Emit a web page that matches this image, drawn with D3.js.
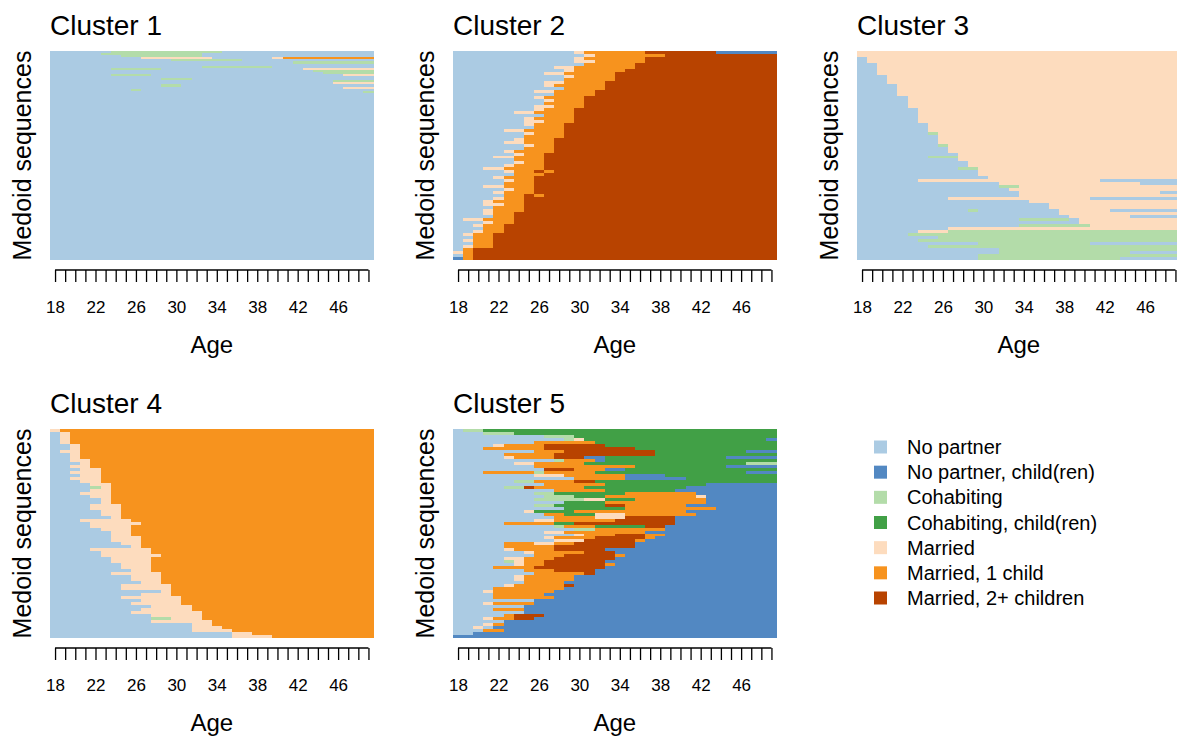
<!DOCTYPE html>
<html>
<head>
<meta charset="utf-8">
<script src="https://cdn.jsdelivr.net/npm/d3@7"></script>
<style>
body{margin:0;background:#fff}
text{font-family:"Liberation Sans",Arial,sans-serif;fill:#000}
</style>
</head>
<body>
<svg id="chart" width="1177" height="736"></svg>
<script>
// states of the sequences
var states = ["No partner","No partner, child(ren)","Cohabiting","Cohabiting, child(ren)","Married","Married, 1 child","Married, 2+ children"];
var stateCodes = ["a","b","c","d","e","f","g"];
var stateColors = ["#abcbe3","#5288c2","#b3dca9","#41a046","#fddcbe","#f7931e","#b84300"];

var ages = [18,19,20,21,22,23,24,25,26,27,28,29,30,31,32,33,34,35,36,37,38,39,40,41,42,43,44,45,46,47,48,49];
var tickLabels = [18,22,26,30,34,38,42,46];
var clusterNames = ["Cluster 1","Cluster 2","Cluster 3","Cluster 4","Cluster 5"];

// one string per sequence, top row first. letter = state, number = years,
// last state runs to age 49, "n*" repeats the row n times
var cluster1 = ["a6c11a","a5c10a","a7c8a","a9e7a6e1f","a12c7a","a24c","a32","a15c7a","a6c5a14e","a26c","a27c",
  "a6c4a19e","a","a11c3a","a28c","a28e","a11c2a","a29e","a8c1a","a31c","80*a"];

var cluster2 = ["a12e1f6g7b","a13e1f7g","a12e1f6g","a12e2f5g","a13f5g","a10e2f6g","a11e1f5g","a9e2f5g","a11e1f4g","a11f5g",
  "a9e2f4g","a9e1f5g","a11f4g","a8e2f4g","a10f4g","a8e1f4g","a9e1f3g","a9f4g","a8e2f3g","a8e1f3g",
  "a6e2f4g","a9f3g","a7e1f4g","a7e2f3g","a7e1f3g","a8f3g","a5e2f4g","a7e1f3g","a7f4g","a6e1f3g",
  "a5e2f3g","a7e1f2g","a7f3g","a5e1f4g","a6e1f2g","a4e2f3g","a6f3g","a6e1f2g","a5e1f3g","a3e2f4g",
  "a5e1f2g1f1g","a6f3g","a4e1f3g","a5e1f2g","a5f3g","a3e2f3g","a5e1f2g","a4e1f3g","a5f2g1f1g","a4e1f2g",
  "a3e1f3g","a3e2f2g","a4f3g","a3e1f3g","a3e1f2g","a4f2g","a1e2f3g","a3e1f2g","a2e1f2g","a3f2g",
  "a2e1f2g","a1e1f2g","a2f2g","a1e1f2g","a2f2g","a1e1f2g","a1f1g","e1f1g","a1f1g","b1f1g"];

var cluster3 = ["e","e","a1e","a1e","a2e","a2e","a2e","a2e","a3e","a3e",
  "a3e","a4e","a4e","a4e","a4e","a5e","a5e","a5e","a5e","a6e",
  "a6e","a6e","a6e","a6e","a7e","a7e","a7e","a7c1e","a8e","a8e",
  "a8e","a8c1e","a9e","a9e","a10e","a7c3e","a10e","a11e","a11e","a10c2e",
  "a12e","a12e","a13e","a6e18a","a14e14a","a14c2e","a15e","a16e14a","a16e","a9e14a",
  "a17e","a19e","a19e","a11c1a8e5a","a20e","a21e6a","a16c5a1e","a22e","a16c7e","a9e",
  "a6e3c","a5c","a8c","a6c","a12c11a","a7c","a14c","a14c13a","a12c","a12c14a"];

var cluster4 = ["e1f","a1e1f","a1e1f","a1e1f","a1e1f","a2e1f","a2e1f","a1e2f","a2e1f","a2e1f",
  "a2e2f","a3e1f","a2e2f","a3e2f","a2e3f","a3e2f","a2e3f","a3e2f","a4e2f","a4c1e1f",
  "a4e2f","a3e3f","a4e2f","a5e1f","a5e1f","a4e3f","a4e3f","a5e2f","a5e2f","a6e1f",
  "a3e5f","a4e5f","a4e4f","a5e3f","a6e2f","a6e2f","a6e3f","a6e3f","a7e2f","a8e1f",
  "a4e6f","a5e5f","a5e6f","a6e4f","a6e4f","a7e3f","a7e3f","a8e2f","a6e5f","a8e3f",
  "a8e3f","a9e2f","a7e5f","a7e5f","a11e1f","a9e3f","a7e6f","a9e4f","a8e5f","a10e4f",
  "a9e5f","a8e7f","a10e5f","a10c2e3f","a10e6f","a14e2f","a14e3f","a14e4f","a18e2f","a18e4f"];

var cluster5 = ["a1c2d","a3c3d","a9c3d","a11c1e1d18b","a8f6d","a4e1f4g6d","a3f6g9d","a8f3g9d9b","a5f5g10d","a5e1f4g3b2d12b",
  "a10c1f3b1d","a6e2f5d16c","a8f10d9b","a9g3f3b2d","a3f5c1f5d15b","a8e3f6b4d","a12f5b6d","a6c2f4g2d","a9f6d10b","a5c2g1f5d10b",
  "a10f5d7b","a8c2d7f7b","a9c3d3f9e1b","a8c5e2d3f7b","a11d4f10b","a8c2d5g2f6b","a11d6f9b","a7e1d4f11b","a9f2d3e3f7b","a10f4e3g5b",
  "a8e2f6g6b","a5f5d2g10b","a10c1f3d5g2b","a12c2f7b","a9e2f8b","a12e1f3g3f2b","a9e1f4g5f1b","a10e3g5f1b","a5f3e2f2g6b","a5f5g8b",
  "a5e1f4g5b","a7e1f5g3b","a8f3g5f1b","a5e2f3g6b","a5c1e1f2g6b","a6e1f2g6f1b","a4f4g7b","a7f3g4b","a8f5g1b","a6e1f5b",
  "a6e1f5b","a7f4b","a5e1f5g1b","a4f7b","a3e1f6b","a4f5b","a4f6b","a8b","a3e1f4b","a7b",
  "a4f3b","a7b","a5f1g3b","a3e1f2g2b","a5b","a3e1f1b","a2e1a1b","a3f2b","a2b","b"];

var clusters = [cluster1, cluster2, cluster3, cluster4, cluster5];

// panel layout
var panelX = [50, 453, 857, 50, 453];
var panelY = [51, 51, 51, 429, 429];
var panelW = 323.5, panelH = 209;

var svg = d3.select("#chart");
svg.append("rect").attr("width",1177).attr("height",736).attr("fill","#fff");

function parseRow(str) {
  var runs = [], m, re = /([a-g])(\d*)/g, used = 0;
  while ((m = re.exec(str)) !== null) {
    var len = m[2] === "" ? ages.length - used : +m[2];
    runs.push({state: stateCodes.indexOf(m[1]), start: ages[used], len: len});
    used += len;
  }
  return runs;
}

function expand(rows) {
  var out = [];
  rows.forEach(function(r){
    var n = 1, s = r;
    if (r.indexOf("*") > 0) { n = +r.split("*")[0]; s = r.split("*")[1]; }
    for (var k = 0; k < n; k++) out.push(s);
  });
  return out;
}

clusters.forEach(function(rows, ci) {
  var px = panelX[ci], py = panelY[ci];
  var seqs = expand(rows);
  var x = d3.scaleLinear().domain([17.5, 49.5]).range([px, px + panelW]);
  var y = d3.scaleBand().domain(d3.range(seqs.length)).range([py, py + panelH]);

  var spans = [];
  seqs.forEach(function(s, i){
    parseRow(s).forEach(function(r){ r.row = i; spans.push(r); });
  });

  var g = svg.append("g").attr("shape-rendering", "crispEdges");
  g.selectAll("rect").data(spans).enter().append("rect")
    .attr("x", function(d){ return Math.round(x(d.start - 0.5)); })
    .attr("width", function(d){ return Math.round(x(d.start + d.len - 0.5)) - Math.round(x(d.start - 0.5)); })
    .attr("y", function(d){ return Math.round(y(d.row)); })
    .attr("height", function(d){ return Math.round(y(d.row) + y.bandwidth()) - Math.round(y(d.row)); })
    .attr("fill", function(d){ return stateColors[d.state]; });

  // axis
  var axis = d3.axisBottom(x).tickValues(ages)
    .tickFormat(function(d){ return tickLabels.indexOf(d) >= 0 ? d : ""; })
    .tickSize(12).tickPadding(19);
  var ag = svg.append("g").attr("transform", "translate(0," + (py + panelH + 10) + ")").call(axis);
  ag.select(".domain").remove();
  ag.append("line").attr("x1", x(18)).attr("x2", x(49)).attr("stroke", "#000");
  ag.selectAll("line").attr("stroke", "#000").attr("stroke-width", 1.3);
  ag.selectAll("text").attr("font-size", 17).attr("font-family", null).attr("fill", "#000");
  ag.attr("font-family", null).attr("font-size", null);

  svg.append("text").attr("x", (x(18) + x(49)) / 2).attr("y", py + panelH + 93)
    .attr("text-anchor", "middle").attr("font-size", 24).text("Age");

  svg.append("text").attr("transform", "translate(" + (px - 28) + "," + (py + panelH / 2) + ") rotate(-90)")
    .attr("text-anchor", "middle").attr("dy", "0.35em").attr("font-size", 25).text("Medoid sequences");

  svg.append("text").attr("x", px).attr("y", py - 16).attr("font-size", 28).text(clusterNames[ci]);
});

// legend
var leg = svg.append("g");
var ly = d3.scaleLinear().domain([0, 6]).range([447, 598]);
states.forEach(function(s, i){
  leg.append("rect").attr("x", 874).attr("y", ly(i) - 6.5).attr("width", 13).attr("height", 13).attr("fill", stateColors[i]);
  leg.append("text").attr("x", 907).attr("y", ly(i)).attr("dy", "0.35em").attr("font-size", 20).text(s);
});
</script>
</body>
</html>
